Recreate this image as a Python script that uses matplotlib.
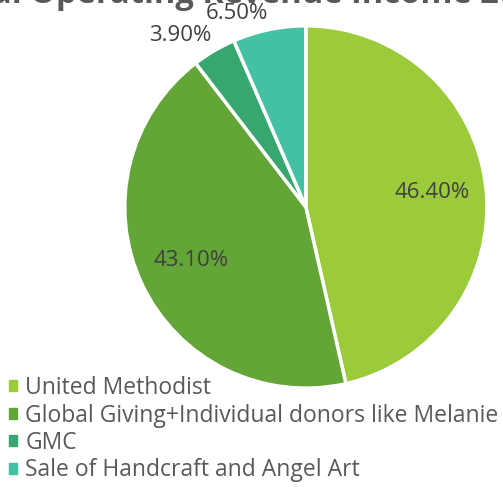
import matplotlib
matplotlib.use('Agg')
import matplotlib.pyplot as plt
import numpy as np

# data
labels = ['United Methodist', 'Global Giving+Individual donors like Melanie',
          'GMC', 'Sale of Handcraft and Angel Art']
shares = [46.4, 43.1, 3.9, 6.5]
colors = ['#9BCB3B', '#63A537', '#37A76F', '#44C1A3']
title_prefix = 'Total '
title_rest = 'Operating Revenue Income 2016'

plt.rcParams['font.family'] = ['Open Sans', 'DejaVu Sans']
text_color = '#595959'

fig = plt.figure(figsize=(5.03, 4.87), dpi=100)
ax = fig.add_axes([0.608 - 0.36, 0.575 - 0.372, 0.72, 0.744])

wedges, _ = ax.pie(shares, colors=colors, startangle=90, counterclock=False,
                   radius=1, wedgeprops=dict(edgecolor='white', linewidth=2.5))
ax.set_xlim(-1, 1)
ax.set_ylim(-1, 1)
ax.set_aspect('auto')
ax.axis('off')

# percentage labels: inside for big slices, outside for small ones
for w, val in zip(wedges, shares):
    mid = np.deg2rad((w.theta1 + w.theta2) / 2)
    if val > 10:
        r = 0.70
        ax.text(r * np.cos(mid), r * np.sin(mid), f'{val:.2f}%', ha='center', va='center',
                fontsize=16, color='#404040')
    else:
        r = 1.03
        ax.text(r * np.cos(mid), r * np.sin(mid), f'{val:.2f}%', ha='right', va='bottom',
                fontsize=16, color='#404040')

# title is wider than the figure and clipped at the top, like the source
renderer = fig.canvas.get_renderer()
probe = fig.text(0, 0, title_prefix.strip() + ' ', fontsize=23.5, fontweight='bold')
pw = probe.get_window_extent(renderer).width
probe.remove()
fig.text((30 - pw) / 503, 0.993, title_prefix + title_rest, ha='left', va='baseline',
         fontsize=23.5, fontweight='bold', color=text_color)

handles = [plt.Rectangle((0, 0), 1, 1, color=c) for c in colors]
fig.legend(handles, labels, loc='lower left', bbox_to_anchor=(0.009, 0.0),
           frameon=False, fontsize=16.5, handlelength=0.35, handleheight=0.35,
           handletextpad=0.35, labelspacing=0.15, borderaxespad=0.05,
           borderpad=0.15, labelcolor=text_color)

fig.savefig('out.png', dpi=100)
